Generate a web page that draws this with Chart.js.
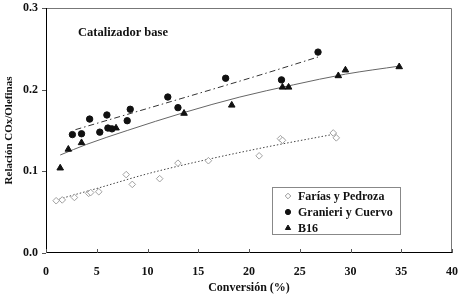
<!DOCTYPE html>
<html>
<head>
<meta charset="utf-8">
<script src="https://cdn.jsdelivr.net/npm/chart.js@4.4.1/dist/chart.umd.min.js"></script>
<style>
  html, body { margin: 0; padding: 0; background: #fff; }
  #wrap { width: 462px; height: 302px; }
</style>
</head>
<body>
<div id="wrap"><canvas id="myChart" width="462" height="302"></canvas></div>
<script>
// measured points
var fariasX = [1.0, 1.6, 2.8, 4.2, 4.4, 5.2, 7.9, 8.5, 11.2, 13.0, 16.0, 21.0, 23.1, 23.3, 28.3, 28.6];
var fariasY = [0.064, 0.065, 0.068, 0.073, 0.074, 0.075, 0.096, 0.084, 0.091, 0.110, 0.113, 0.119, 0.140, 0.138, 0.147, 0.141];
var granieriX = [2.6, 3.5, 4.3, 5.3, 6.0, 6.1, 6.5, 8.0, 8.3, 12.0, 13.0, 17.7, 23.2, 26.8];
var granieriY = [0.145, 0.146, 0.164, 0.148, 0.169, 0.153, 0.152, 0.162, 0.176, 0.191, 0.178, 0.214, 0.212, 0.246];
var b16X = [1.4, 2.2, 3.5, 6.9, 13.6, 18.3, 23.3, 23.9, 28.8, 29.5, 34.8];
var b16Y = [0.104, 0.127, 0.135, 0.153, 0.171, 0.181, 0.203, 0.203, 0.217, 0.224, 0.228];

// trend lines
var fariasFitX = [1.0, 5, 10, 15, 21, 28.6];
var fariasFitY = [0.065, 0.079, 0.097, 0.112, 0.128, 0.146];
var granieriFitX = [2.9, 21.1, 26.8];
var granieriFitY = [0.151, 0.218, 0.240];
var b16FitX = [1.4, 4, 8, 13.6, 19.1, 24.4, 29.5, 34.9];
var b16FitY = [0.120, 0.133, 0.150, 0.172, 0.191, 0.206, 0.219, 0.229];

var seriesNames = ['Farías y Pedroza', 'Granieri y Cuervo', 'B16'];
var xTickValues = [0, 5, 10, 15, 20, 25, 30, 35, 40];
var yTickValues = [0, 0.1, 0.2, 0.3];

function pts(xs, ys) {
  return xs.map(function (x, i) { return { x: x, y: ys[i] }; });
}

var serif = '"Liberation Serif", "Times New Roman", serif';

var framePlugin = {
  id: 'frame',
  afterDraw: function (chart) {
    var c = chart.ctx, a = chart.chartArea;
    var xs = chart.scales.x, ys = chart.scales.y;
    c.save();
    // top / right frame
    c.strokeStyle = '#777';
    c.lineWidth = 1;
    c.beginPath();
    c.moveTo(a.left, a.top + 0.5);
    c.lineTo(a.right - 0.5, a.top + 0.5);
    c.lineTo(a.right - 0.5, a.bottom);
    c.stroke();
    // axes
    c.strokeStyle = '#000';
    c.beginPath();
    c.moveTo(a.left + 0.5, a.top);
    c.lineTo(a.left + 0.5, a.bottom - 0.5);
    c.lineTo(a.right, a.bottom - 0.5);
    c.stroke();
    // ticks
    c.strokeStyle = '#555';
    c.beginPath();
    xTickValues.forEach(function (v) {
      var px = Math.round(xs.getPixelForValue(v)) + 0.5;
      c.moveTo(px, a.bottom);
      c.lineTo(px, a.bottom - 4);
    });
    yTickValues.forEach(function (v) {
      var py = Math.round(ys.getPixelForValue(v)) + 0.5;
      c.moveTo(a.left, py);
      c.lineTo(a.left - 4, py);
    });
    c.stroke();

    // inner title
    c.fillStyle = '#111';
    c.font = 'bold 12.5px ' + serif;
    c.textBaseline = 'middle';
    c.fillText('Catalizador base', 78, 33);

    // legend box
    var bx = 272, by = 187, bw = 128, bh = 47;
    c.fillStyle = '#fff';
    c.fillRect(bx, by, bw, bh);
    c.strokeStyle = '#888';
    c.strokeRect(bx + 0.5, by + 0.5, bw, bh);
    var styles = ['rectRot', 'circle', 'triangle'];
    var fills = ['#fff', '#111', '#111'];
    var strokes = ['#999', '#111', '#111'];
    var radii = [2.8, 2.6, 3];
    c.font = 'bold 12px ' + serif;
    seriesNames.forEach(function (name, i) {
      var yy = by + 9 + i * 16;
      c.fillStyle = fills[i];
      c.strokeStyle = strokes[i];
      c.lineWidth = 1;
      Chart.helpers.drawPoint(c, { pointStyle: styles[i], radius: radii[i], borderWidth: 1 }, bx + 16, yy);
      c.fillStyle = '#111';
      c.fillText(name, bx + 26, yy + 1);
    });
    c.restore();
  }
};

var ctx = document.getElementById('myChart').getContext('2d');
var myChart = new Chart(ctx, {
  type: 'scatter',
  data: {
    datasets: [
      {
        label: seriesNames[0],
        data: pts(fariasX, fariasY),
        pointStyle: 'rectRot',
        pointRadius: 3.3,
        backgroundColor: '#fff',
        borderColor: '#a0a0a0',
        borderWidth: 1
      },
      {
        label: seriesNames[1],
        data: pts(granieriX, granieriY),
        pointStyle: 'circle',
        pointRadius: 3.2,
        backgroundColor: '#111',
        borderColor: '#111'
      },
      {
        label: seriesNames[2],
        data: pts(b16X, b16Y),
        pointStyle: 'triangle',
        pointRadius: 3.8,
        backgroundColor: '#111',
        borderColor: '#111'
      },
      {
        label: 'fit1',
        type: 'line',
        data: pts(fariasFitX, fariasFitY),
        showLine: true,
        pointRadius: 0,
        borderColor: '#444',
        borderWidth: 1,
        borderDash: [1.5, 2],
        cubicInterpolationMode: 'monotone'
      },
      {
        label: 'fit2',
        type: 'line',
        data: pts(granieriFitX, granieriFitY),
        showLine: true,
        pointRadius: 0,
        borderColor: '#333',
        borderWidth: 1,
        borderDash: [6, 3, 1.5, 3],
        cubicInterpolationMode: 'monotone'
      },
      {
        label: 'fit3',
        type: 'line',
        data: pts(b16FitX, b16FitY),
        showLine: true,
        pointRadius: 0,
        borderColor: '#666',
        borderWidth: 1,
        cubicInterpolationMode: 'monotone'
      }
    ]
  },
  options: {
    responsive: false,
    animation: false,
    layout: { padding: { top: 8, right: 10, left: 0, bottom: 0 } },
    plugins: {
      legend: { display: false },
      tooltip: { enabled: false }
    },
    scales: {
      x: {
        type: 'linear',
        min: 0,
        max: 40,
        afterBuildTicks: function (s) { s.ticks = xTickValues.map(function (v) { return { value: v }; }); },
        grid: { display: false, drawTicks: false },
        border: { display: false },
        ticks: {
          color: '#111',
          padding: 12,
          font: { family: serif, weight: 'bold', size: 12 }
        },
        title: {
          display: true,
          text: 'Conversión (%)',
          color: '#111',
          padding: { top: 4, bottom: 7 },
          font: { family: serif, weight: 'bold', size: 12 }
        },
        afterFit: function (s) {
          s.height = 49;
          s.paddingLeft = 0;
          s.paddingRight = 0;
        }
      },
      y: {
        type: 'linear',
        min: 0,
        max: 0.3,
        afterBuildTicks: function (s) { s.ticks = yTickValues.map(function (v) { return { value: v }; }); },
        grid: { display: false, drawTicks: false },
        border: { display: false },
        ticks: {
          color: '#111',
          padding: 8,
          font: { family: serif, weight: 'bold', size: 12 },
          callback: function (v) { return v.toFixed(1); }
        },
        title: {
          display: true,
          text: 'Relación COx/Olefinas',
          color: '#111',
          padding: { top: 3, bottom: 2 },
          font: { family: serif, weight: 'bold', size: 11 }
        },
        afterFit: function (s) {
          s.width = 46;
          s.paddingTop = 0;
          s.paddingBottom = 0;
        }
      }
    }
  },
  plugins: [framePlugin]
});
</script>
</body>
</html>
